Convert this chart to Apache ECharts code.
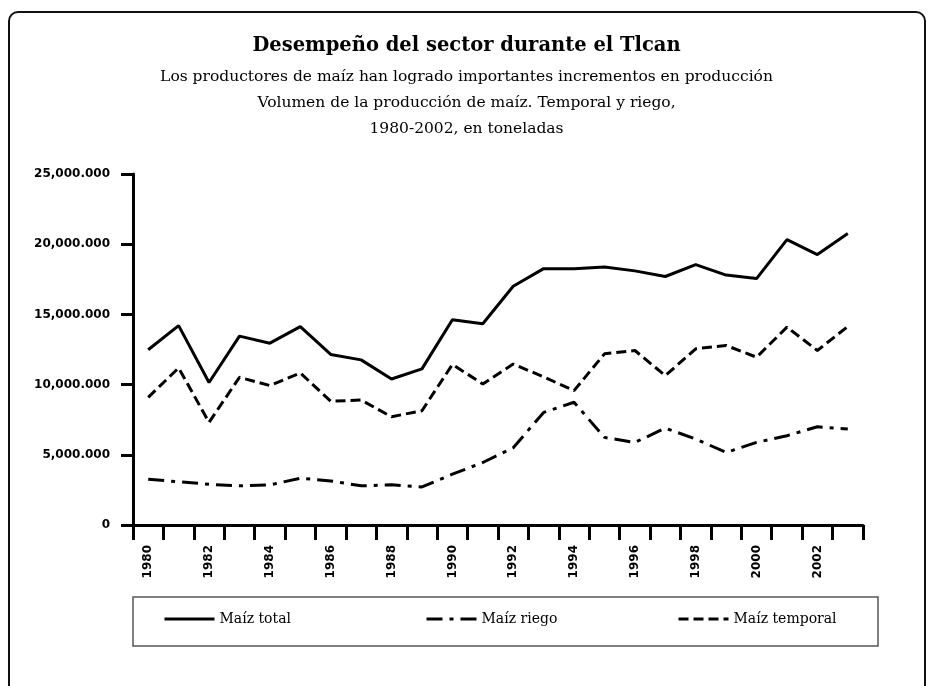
<!DOCTYPE html>
<html>
<head>
<meta charset="utf-8">
<script src="https://cdn.jsdelivr.net/npm/echarts@6/dist/echarts.min.js"></script>
<style>
	html, body { margin: 0; padding: 0; background: #fff; }
	#chart { width: 933px; height: 686px; }
</style>
</head>
<body>
<div id="chart"></div>
<script>
// data (toneladas)
var years = ['1980','1981','1982','1983','1984','1985','1986','1987','1988','1989','1990','1991',
	'1992','1993','1994','1995','1996','1997','1998','1999','2000','2001','2002','2003'];
var maizTotal = [12480000, 14200000, 10150000, 13450000, 12950000, 14130000, 12150000, 11760000,
	10400000, 11120000, 14620000, 14330000, 17000000, 18260000, 18260000, 18380000, 18100000,
	17700000, 18550000, 17800000, 17550000, 20330000, 19260000, 20760000];
var maizRiego = [3260000, 3080000, 2900000, 2790000, 2860000, 3330000, 3140000, 2790000,
	2860000, 2710000, 3620000, 4450000, 5500000, 8020000, 8740000, 6240000, 5880000,
	6900000, 6120000, 5170000, 5880000, 6360000, 7000000, 6830000];
var maizTemporal = [9090000, 11190000, 7310000, 10520000, 9930000, 10830000, 8810000, 8900000,
	7710000, 8140000, 11430000, 10050000, 11460000, 10550000, 9570000, 12190000, 12430000,
	10640000, 12550000, 12790000, 11950000, 14090000, 12430000, 14140000];
var yTicks = ['0', '5,000.000', '10,000.000', '15,000.000', '20,000.000', '25,000.000'];
var seriesNames = ['Maíz total', 'Maíz riego', 'Maíz temporal'];
var subtitles = [
	'Los productores de maíz han logrado importantes incrementos en producción',
	'Volumen de la producción de maíz. Temporal y riego,',
	'1980-2002, en toneladas'
];

var serif = '"DejaVu Serif", serif';
var sans = '"DejaVu Sans", sans-serif';

var myChart = echarts.init(document.getElementById('chart'));

var mkSeries = function(name, data, dash){
	return {
		name: name,
		type: 'line',
		data: data,
		symbol: 'none',
		showSymbol: false,
		lineStyle: {color: '#000', width: 3, type: dash},
		itemStyle: {color: '#000'}
	};
};

var mkLegend = function(name, left){
	return {
		data: [name],
		left: left,
		top: 612,
		padding: 0,
		itemWidth: 50,
		itemHeight: 14,
		itemGap: 6,
		itemStyle: {opacity: 0, borderWidth: 0},
		lineStyle: {width: 3},
		textStyle: {fontFamily: serif, fontSize: 14, color: '#000'}
	};
};

var titles = [{
	text: 'Desempeño del sector durante el Tlcan',
	left: 'center',
	top: 31,
	textStyle: {fontFamily: serif, fontSize: 19.5, fontWeight: 'bold', color: '#000'}
}];
for(var i = 0; i < subtitles.length; i++){
	titles.push({
		text: subtitles[i],
		left: 'center',
		top: 64 + i * 26,
		textStyle: {fontFamily: serif, fontSize: 15.5, fontWeight: 'normal', color: '#000'}
	});
}

var option = {
	backgroundColor: '#fff',
	animation: false,
	title: titles,
	legend: [
		mkLegend(seriesNames[0], 163),
		mkLegend(seriesNames[1], 425),
		mkLegend(seriesNames[2], 677)
	],
	grid: {left: 133, right: 70, top: 174, bottom: 161},
	xAxis: {
		type: 'category',
		data: years,
		boundaryGap: true,
		axisLine: {show: true, lineStyle: {color: '#000', width: 3}},
		axisTick: {show: true, interval: 0, length: 15, lineStyle: {color: '#000', width: 3}},
		axisLabel: {
			show: true,
			interval: 1,
			rotate: 90,
			margin: 20,
			color: '#000',
			fontFamily: sans,
			fontSize: 12,
			fontWeight: 'bold'
		}
	},
	yAxis: {
		type: 'value',
		min: 0,
		max: 25000000,
		interval: 5000000,
		splitLine: {show: false},
		axisLine: {show: true, lineStyle: {color: '#000', width: 3}},
		axisTick: {show: true, length: 12, lineStyle: {color: '#000', width: 3}},
		axisLabel: {
			margin: 23,
			color: '#000',
			fontFamily: sans,
			fontSize: 12,
			fontWeight: 'bold',
			formatter: function(v){ return yTicks[Math.round(v / 5000000)]; }
		}
	},
	graphic: [{
		type: 'rect',
		shape: {x: 9, y: 12, width: 916, height: 720, r: 9},
		style: {fill: 'none', stroke: '#111', lineWidth: 2},
		silent: true
	}, {
		type: 'rect',
		shape: {x: 133, y: 597, width: 745, height: 49},
		style: {fill: 'none', stroke: '#555', lineWidth: 1.5},
		silent: true
	}],
	series: [
		mkSeries(seriesNames[0], maizTotal, 'solid'),
		mkSeries(seriesNames[1], maizRiego, [16, 7, 4, 7]),
		mkSeries(seriesNames[2], maizTemporal, [10, 5])
	]
};

myChart.setOption(option);
</script>
</body>
</html>
